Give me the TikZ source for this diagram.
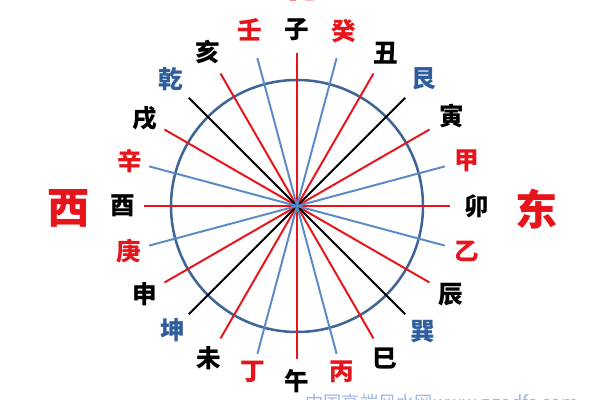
\documentclass[tikz,border=0pt]{standalone}
\usepackage{fontspec}
\newfontfamily\cjk{Noto Sans CJK SC}
\definecolor{zred}{HTML}{E8141B}
\definecolor{zblue}{HTML}{5B8BC6}
\definecolor{zring}{HTML}{3F6596}
\definecolor{ztext}{HTML}{2F5E9C}
\definecolor{zmark}{HTML}{9FB5E6}

\begin{document}
\begin{tikzpicture}[x=0.025cm,y=0.025cm,
    redline/.style={draw=zred, line width=1.4pt},
    blueline/.style={draw=zblue, line width=1.4pt},
    blackline/.style={draw=black, line width=1.4pt},
    lbl/.style={font=\cjk\bfseries\fontsize{17.5}{17.5}\selectfont, inner sep=0pt},
    big/.style={font=\cjk\bfseries\fontsize{30}{30}\selectfont, text=zred, inner sep=0pt}]
  \useasboundingbox (-297,-194) rectangle (303,206);
  % Ring
  \draw[zring, line width=1.8pt] (0,0) circle (126);
  % Diameters, 15 degrees apart
  \draw[redline] (90:153) -- (-90:153);
  \draw[redline] (0:153) -- (180:153);
  \draw[redline] (60:153) -- (-120:153);
  \draw[redline] (120:153) -- (-60:153);
  \draw[redline] (30:153) -- (-150:153);
  \draw[redline] (150:153) -- (-30:153);
  \draw[blackline] (45:153) -- (-135:153);
  \draw[blackline] (135:153) -- (-45:153);
  \draw[blueline] (75:153) -- (-105:153);
  \draw[blueline] (105:153) -- (-75:153);
  \draw[blueline] (15:153) -- (-165:153);
  \draw[blueline] (165:153) -- (-15:153);
  % Branches
  \node[lbl] (zi) at (90:176) {子};
  \node[lbl] (chou) at (60:177) {丑};
  \node[lbl] (yin) at (30:179) {寅};
  \node[lbl] (mao) at (0:180) {卯};
  \node[lbl] (chen) at (-30:178) {辰};
  \node[lbl] (si) at (-60:176) {巳};
  \node[lbl] (wu) at (-90:175) {午};
  \node[lbl] (wei) at (-120:176) {未};
  \node[lbl] (shen) at (-150:176) {申};
  \node[lbl] (you) at (180:174) {酉};
  \node[lbl] (xu) at (150:176) {戌};
  \node[lbl] (hai) at (120:178) {亥};
  % Stems
  \node[lbl, text=zred] (gui) at (75:181) {癸};
  \node[lbl, text=zred] (jia) at (15:176) {甲};
  \node[lbl, text=zred] (yi) at (-15:176) {乙};
  \node[lbl, text=zred] (bing) at (-75:172) {丙};
  \node[lbl, text=zred] (ding) at (-105:172) {丁};
  \node[lbl, text=zred] (geng) at (-165:174) {庚};
  \node[lbl, text=zred] (xin) at (165:173) {辛};
  \node[lbl, text=zred] (ren) at (105:182) {壬};
  % Trigrams
  \node[lbl, text=ztext] (gen) at (45:180) {艮};
  \node[lbl, text=ztext] (xun) at (-45:178) {巽};
  \node[lbl, text=ztext] (kun) at (-135:176) {坤};
  \node[lbl, text=ztext] (qian) at (135:179) {乾};
  % Quarters
  \node[big] (west) at (-228,-2) {西};
  \node[big] (east) at (240,-3) {东};
  \node[big] (north) at (3,224) {北};
  % Watermark
  \node[font=\cjk\fontsize{13}{13}\selectfont, text=zmark, inner sep=0pt, anchor=north west]
    (mark) at (8,-188) {中国高端风水网www.zgodfs.com};
\end{tikzpicture}
\end{document}
